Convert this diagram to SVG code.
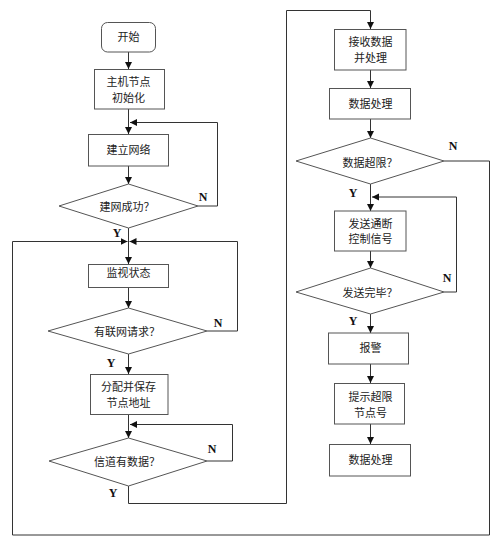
<svg xmlns="http://www.w3.org/2000/svg" width="504" height="544" viewBox="0 0 504 544">
<defs>
<marker id="ah" markerUnits="userSpaceOnUse" markerWidth="8" markerHeight="8" refX="7" refY="3.5" orient="auto">
<path d="M0,0 L7,3.5 L0,7 z" fill="#111"/>
</marker>
<style>
.box{fill:#fff;stroke:#555;stroke-width:1}
.t{font-family:"Noto Sans CJK SC","Noto Sans",sans-serif;font-size:11px;fill:#222;text-anchor:middle}
.yn{font-family:"Liberation Serif",serif;font-size:12px;font-weight:bold;fill:#111;text-anchor:middle}
.c{fill:none;stroke:#333;stroke-width:1}
.ca{fill:none;stroke:#333;stroke-width:1;marker-end:url(#ah)}
</style>
</defs>
<rect width="504" height="544" fill="#fff"/>
<g id="connectors">
<line class="ca" x1="128.5" y1="52" x2="128.5" y2="69"/>
<line class="ca" x1="128.5" y1="109" x2="128.5" y2="134"/>
<polyline class="ca" points="198,206 217.5,206 217.5,122.5 130,122.5"/>
<line class="ca" x1="128.5" y1="166" x2="128.5" y2="184"/>
<line class="ca" x1="128.5" y1="228" x2="128.5" y2="264"/>
<polyline class="ca" points="489.5,161 489.5,535 12.5,535 12.5,241.5 127.5,241.5"/>
<polyline class="c" points="444,161 489.5,161"/>
<polyline class="ca" points="207,331 237.5,331 237.5,241.5 129.5,241.5"/>
<line class="ca" x1="128.5" y1="287" x2="128.5" y2="308"/>
<line class="ca" x1="128.5" y1="354" x2="128.5" y2="374"/>
<line class="ca" x1="128.5" y1="414" x2="128.5" y2="438"/>
<polyline class="ca" points="207,461 232.5,461 232.5,424.5 130,424.5"/>
<polyline class="ca" points="128.5,486 128.5,503.5 286.5,503.5 286.5,10.5 370.5,10.5 370.5,29"/>
<line class="ca" x1="370.5" y1="70" x2="370.5" y2="88"/>
<line class="ca" x1="370.5" y1="119" x2="370.5" y2="138"/>
<line class="ca" x1="370.5" y1="184" x2="370.5" y2="211"/>
<polyline class="ca" points="444,292 456.5,292 456.5,197 372,197"/>
<line class="ca" x1="370.5" y1="251" x2="370.5" y2="268"/>
<line class="ca" x1="370.5" y1="314" x2="370.5" y2="333"/>
<line class="ca" x1="370.5" y1="364" x2="370.5" y2="383"/>
<line class="ca" x1="370.5" y1="424" x2="370.5" y2="444"/>
<text class="yn" x="203" y="201">N</text>
<text class="yn" x="117" y="237">Y</text>
<text class="yn" x="218" y="327">N</text>
<text class="yn" x="111" y="367">Y</text>
<text class="yn" x="212" y="453">N</text>
<text class="yn" x="113" y="497">Y</text>
<text class="yn" x="453" y="150">N</text>
<text class="yn" x="353" y="197">Y</text>
<text class="yn" x="447" y="282">N</text>
<text class="yn" x="353" y="325">Y</text>
</g>
<g id="start">
<rect class="box" x="101.5" y="22.5" width="54" height="29.5" rx="6"/>
<text class="t" x="128.5" y="41">开始</text>
</g>
<g id="init">
<rect class="box" x="94.5" y="69.5" width="70" height="39.5"/>
<text class="t" x="128.5" y="85.5">主机节点</text>
<text class="t" x="128.5" y="102">初始化</text>
</g>
<g id="build">
<rect class="box" x="88.5" y="134.5" width="80" height="31.5"/>
<text class="t" x="128.5" y="154">建立网络</text>
</g>
<g id="buildok">
<polygon class="box" points="128.5,184 198,206 128.5,228 59,206"/>
<text class="t" x="127" y="211">建网成功？</text>
</g>
<g id="monitor">
<rect class="box" x="88.5" y="264.5" width="80" height="23"/>
<text class="t" x="128.5" y="276.5">监视状态</text>
</g>
<g id="joinreq">
<polygon class="box" points="128.5,308 207,331 128.5,354 48,331"/>
<text class="t" x="127" y="335.5">有联网请求？</text>
</g>
<g id="assign">
<rect class="box" x="90.5" y="374.5" width="77.5" height="40"/>
<text class="t" x="128.5" y="390.5">分配并保存</text>
<text class="t" x="128.5" y="407">节点地址</text>
</g>
<g id="hasdata">
<polygon class="box" points="128.5,438 207,461 128.5,486 49,461"/>
<text class="t" x="127" y="465.5">信道有数据？</text>
</g>
<g id="receive">
<rect class="box" x="334.5" y="29.5" width="71.5" height="40.5"/>
<text class="t" x="370.5" y="45.5">接收数据</text>
<text class="t" x="370.5" y="62">并处理</text>
</g>
<g id="process1">
<rect class="box" x="329.5" y="88.5" width="81" height="30.5"/>
<text class="t" x="370.5" y="108">数据处理</text>
</g>
<g id="overlimit">
<polygon class="box" points="370.5,138 444,161 370.5,184 296,161"/>
<text class="t" x="370" y="167">数据超限？</text>
</g>
<g id="sendctl">
<rect class="box" x="334.5" y="211" width="71.5" height="40"/>
<text class="t" x="370.5" y="228">发送通断</text>
<text class="t" x="370.5" y="243">控制信号</text>
</g>
<g id="senddone">
<polygon class="box" points="370.5,268 444,292 370.5,314 296,292"/>
<text class="t" x="370" y="297">发送完毕？</text>
</g>
<g id="alarm">
<rect class="box" x="328.5" y="333" width="80" height="31"/>
<text class="t" x="370.5" y="352">报警</text>
</g>
<g id="shownode">
<rect class="box" x="334.5" y="383.5" width="70" height="40.5"/>
<text class="t" x="370.5" y="400.5">提示超限</text>
<text class="t" x="370.5" y="417">节点号</text>
</g>
<g id="process2">
<rect class="box" x="329.5" y="444.5" width="81" height="31.5"/>
<text class="t" x="370.5" y="464">数据处理</text>
</g>
</svg>
